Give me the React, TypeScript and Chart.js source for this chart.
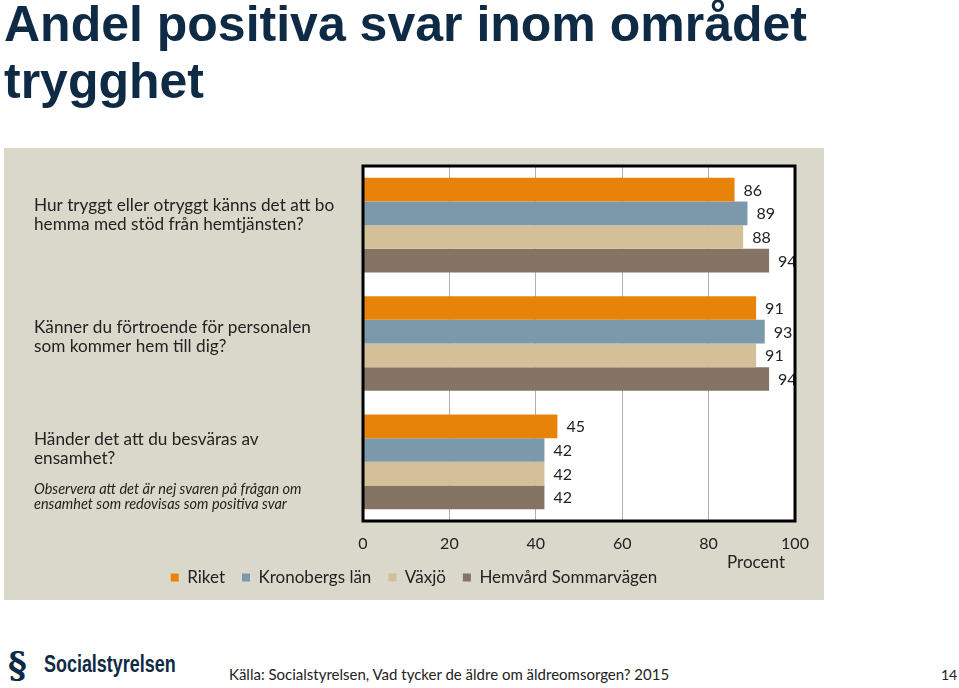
import React, { useEffect, useRef } from "react";
import { Chart, registerables } from "chart.js";

Chart.register(...registerables);

const titleLines = ["Andel positiva svar inom området", "trygghet"];
const categoryLines = [
  ["Hur tryggt eller otryggt känns det att bo", "hemma med stöd från hemtjänsten?"],
  ["Känner du förtroende för personalen", "som kommer hem till dig?"],
  ["Händer det att du besväras av", "ensamhet?"],
];
const categoryNotes = [
  [],
  [],
  ["Observera att det är nej svaren på frågan om", "ensamhet som redovisas som positiva svar"],
];
const categories = ["Trygghet hemma", "Förtroende", "Ensamhet"];
const seriesNames = ["Riket", "Kronobergs län", "Växjö", "Hemvård Sommarvägen"];
const riket = [86, 91, 45];
const kronobergsLan = [89, 93, 42];
const vaxjo = [88, 91, 42];
const hemvardSommarvagen = [94, 94, 42];
const xTickValues = [0, 20, 40, 60, 80, 100];
const xAxisTitle = "Procent";
const sourceText = "Källa: Socialstyrelsen, Vad tycker de äldre om äldreomsorgen? 2015";
const pageNumber = "14";

const COLORS = ["#E8830A", "#7C98AB", "#D4C098", "#857464"];
const FONT = "Lato, 'DejaVu Sans', sans-serif";
const TEXT = "#222222";
// per-category first-line offset relative to category centre (px)
const LABEL_OFFSETS = [-20, -16, -22];
const NOTE_OFFSET = 27;

export default function App() {
  const canvasRef = useRef<HTMLCanvasElement | null>(null);

  useEffect(() => {
    const canvas = canvasRef.current;
    if (!canvas) return;

    const framePlugin = {
      id: "frameAndLabels",
      beforeDraw(chart: any) {
        const { ctx, chartArea } = chart;
        ctx.save();
        ctx.fillStyle = "#ffffff";
        ctx.fillRect(chartArea.left, chartArea.top, chartArea.right - chartArea.left, chartArea.bottom - chartArea.top);
        ctx.restore();
      },
      afterDatasetsDraw(chart: any) {
        const { ctx, chartArea } = chart;
        // value labels, clipped to plot area
        ctx.save();
        ctx.beginPath();
        ctx.rect(chartArea.left, chartArea.top, chartArea.right - chartArea.left, chartArea.bottom - chartArea.top);
        ctx.clip();
        ctx.font = `16px ${FONT}`;
        ctx.fillStyle = TEXT;
        ctx.textAlign = "left";
        ctx.textBaseline = "middle";
        chart.data.datasets.forEach((ds: any, di: number) => {
          const meta = chart.getDatasetMeta(di);
          meta.data.forEach((bar: any, i: number) => {
            ctx.fillText(String(ds.data[i]), bar.x + 9, bar.y + 1);
          });
        });
        ctx.restore();

        // frame
        ctx.save();
        ctx.strokeStyle = "#000000";
        ctx.lineWidth = 3;
        ctx.strokeRect(chartArea.left, chartArea.top, chartArea.right - chartArea.left, chartArea.bottom - chartArea.top);
        ctx.restore();

        // category labels
        const yScale = chart.scales.y;
        ctx.save();
        ctx.fillStyle = TEXT;
        ctx.textAlign = "left";
        ctx.textBaseline = "middle";
        categories.forEach((_c, i) => {
          const cy = yScale.getPixelForValue(i);
          ctx.font = `17.2px ${FONT}`;
          categoryLines[i].forEach((line, li) => {
            ctx.fillText(line, 30, cy + LABEL_OFFSETS[i] + li * 19);
          });
          ctx.font = `italic 14.5px ${FONT}`;
          categoryNotes[i].forEach((line, li) => {
            ctx.fillText(line, 30, cy + NOTE_OFFSET + li * 15);
          });
        });
        // axis title
        ctx.font = `17px ${FONT}`;
        ctx.textAlign = "right";
        ctx.fillText(xAxisTitle, chartArea.right - 10, chartArea.bottom + 42);
        ctx.restore();
      },
    };

    const chart = new Chart(canvas, {
      type: "bar",
      data: {
        labels: categories,
        datasets: [riket, kronobergsLan, vaxjo, hemvardSommarvagen].map((d, i) => ({
          label: seriesNames[i],
          data: d,
          backgroundColor: COLORS[i],
          borderWidth: 0,
          categoryPercentage: 0.8,
          barPercentage: 1.0,
        })),
      },
      options: {
        indexAxis: "y",
        responsive: false,
        animation: false,
        layout: { padding: { left: 0, right: 0, top: 18, bottom: 4 } },
        scales: {
          x: {
            min: 0,
            max: 100,
            afterBuildTicks: (scale: any) => {
              scale.ticks = xTickValues.map((v) => ({ value: v }));
            },
            afterFit: (scale: any) => {
              scale.height = 31;
            },
            grid: { color: "#b0b0b0", lineWidth: 1, drawTicks: false },
            border: { display: false },
            ticks: { padding: 13, color: TEXT, font: { family: FONT, size: 16 } },
          },
          y: {
            type: "category",
            position: "left",
            grid: { display: false },
            border: { display: false },
            ticks: { display: false },
            afterFit: (scale: any) => {
              scale.width = 359;
            },
          },
          y2: {
            type: "category",
            position: "right",
            grid: { display: false },
            border: { display: false },
            ticks: { display: false },
            afterFit: (scale: any) => {
              scale.width = 29;
            },
          },
        },
        plugins: {
          legend: {
            position: "bottom",
            labels: {
              boxWidth: 8,
              boxHeight: 8,
              padding: 17,
              color: TEXT,
              font: { family: FONT, size: 17 },
            },
          },
          tooltip: { enabled: false },
        },
      },
      plugins: [framePlugin],
    } as any);

    return () => chart.destroy();
  }, []);

  return (
    <div style={{ position: "absolute", left: 0, top: 0, width: 959, height: 688, background: "#ffffff", overflow: "hidden" }}>
      <div
        style={{
          position: "absolute",
          left: 4,
          top: -4,
          fontFamily: "'Liberation Sans', Arial, sans-serif",
          fontWeight: 700,
          fontSize: 50,
          lineHeight: "57px",
          color: "#0E2A44",
          whiteSpace: "nowrap",
        }}
      >
        {titleLines.map((t, i) => (
          <div key={i}>{t}</div>
        ))}
      </div>
      <div style={{ position: "absolute", left: 4, top: 148, width: 820, height: 452, background: "#DAD7CB" }}>
        <canvas ref={canvasRef} width={820} height={452} style={{ display: "block" }} />
      </div>
      <div
        style={{
          position: "absolute",
          left: 8,
          top: 644,
          fontFamily: "'DejaVu Serif', serif",
          fontWeight: 700,
          fontSize: 36,
          lineHeight: "40px",
          color: "#0E2A44",
        }}
      >
        &#167;
      </div>
      <div
        style={{
          position: "absolute",
          left: 44,
          top: 651,
          fontFamily: "'Liberation Sans', Arial, sans-serif",
          fontWeight: 700,
          fontSize: 23,
          lineHeight: "26px",
          color: "#0E2A44",
          whiteSpace: "nowrap",
          transform: "scaleX(0.78)",
          transformOrigin: "left top",
        }}
      >
        Socialstyrelsen
      </div>
      <div
        style={{
          position: "absolute",
          left: 229,
          top: 665,
          fontFamily: FONT,
          fontSize: 15,
          color: TEXT,
          whiteSpace: "nowrap",
        }}
      >
        {sourceText}
      </div>
      <div style={{ position: "absolute", left: 941, top: 666, fontFamily: FONT, fontSize: 14, color: TEXT }}>{pageNumber}</div>
    </div>
  );
}
